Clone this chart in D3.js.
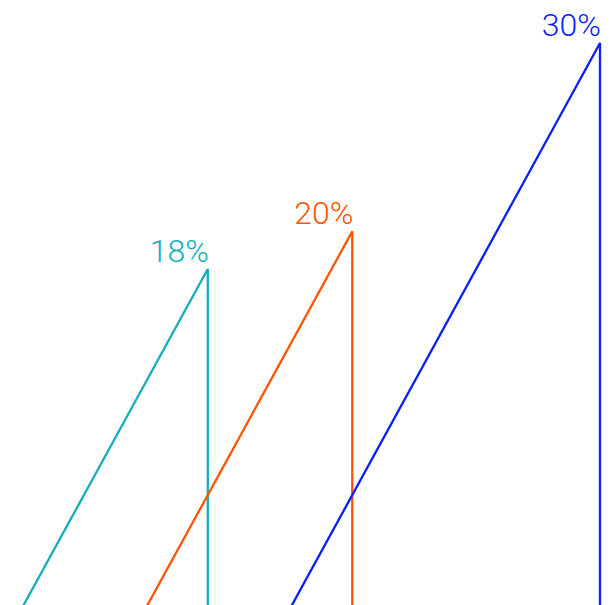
<!DOCTYPE html>
<html>
<head>
<meta charset="utf-8">
<script src="https://cdn.jsdelivr.net/npm/d3@7"></script>
<style>
  html, body { margin: 0; padding: 0; background: #fff; }
  svg { display: block; }
  .label { font-family: Roboto, "Noto Sans", sans-serif; font-weight: 300; font-size: 32px; }
</style>
</head>
<body>
<div id="chart"></div>
<script>
const WIDTH = 614;
const HEIGHT = 605;

// data
const series = ["A", "B", "C"];
const values = [18, 20, 30];
const labels = ["18%", "20%", "30%"];
const colors = ["#14aebb", "#ff5400", "#0a1eff"];

const OVERLAP = 6; // triangles overlap by this many units
const margin = { top: 43, right: 14, bottom: -3, left: 22 };

const svg = d3.select("#chart").append("svg")
    .attr("width", WIDTH)
    .attr("height", HEIGHT);

// cumulative start of each triangle along x (in value units)
let acc = 0;
const tri = values.map((v, i) => {
    const start = acc;
    acc += v - OVERLAP;
    return { key: series[i], value: v, label: labels[i], color: colors[i], start, end: start + v };
});
const total = d3.max(tri, d => d.end);

const x = d3.scaleLinear()
    .domain([0, total])
    .range([margin.left, WIDTH - margin.right]);

const y = d3.scaleLinear()
    .domain([0, d3.max(values)])
    .range([HEIGHT - margin.bottom, margin.top]);

const g = svg.selectAll(".tri")
    .data(tri)
    .enter().append("g")
    .attr("class", "tri");

// open triangle: bottom-left -> apex -> bottom-right
g.append("path")
    .attr("d", d => d3.line()([
        [x(d.start), y(0)],
        [x(d.end), y(d.value)],
        [x(d.end), y(0)]
    ]))
    .attr("fill", "none")
    .attr("stroke", d => d.color)
    .attr("stroke-width", 2.3);

g.append("text")
    .attr("class", "label")
    .attr("x", d => x(d.end) + 1)
    .attr("y", d => y(d.value) - 7)
    .attr("text-anchor", "end")
    .attr("fill", d => d.color)
    .text(d => d.label);
</script>
</body>
</html>
